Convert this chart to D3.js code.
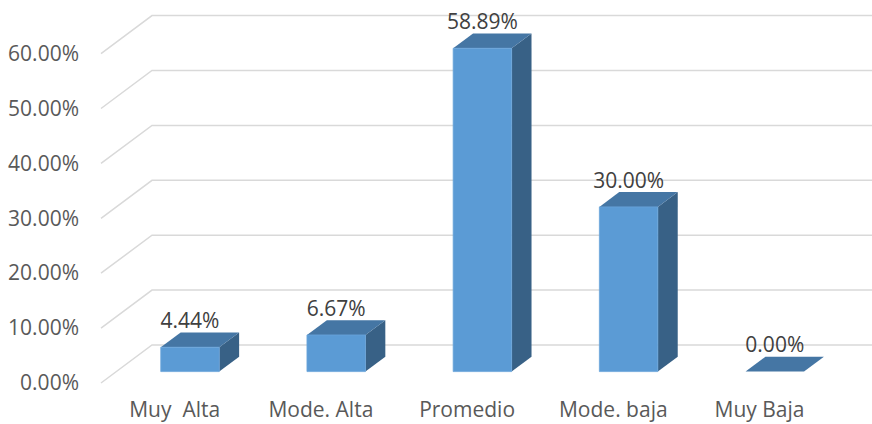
<!DOCTYPE html>
<html>
<head>
<meta charset="utf-8">
<script src="https://cdn.jsdelivr.net/npm/d3@7/dist/d3.min.js"></script>
<style>
  html, body { margin: 0; padding: 0; background: #ffffff; }
  svg { display: block; }
  text { font-family: "Open Sans", "Liberation Sans", sans-serif; }
</style>
</head>
<body>
<div id="chart"></div>
<script>
// Category labels and percentage values
const categories = ["Muy  Alta", "Mode. Alta", "Promedio", "Mode. baja", "Muy Baja"];
const values = [4.44, 6.67, 58.89, 30.00, 0.00];
const tickValues = [0, 10, 20, 30, 40, 50, 60];

const W = 872, H = 424;
const FONT = "21px";

// Oblique projection: full depth of the box shifts points right and up
const DX = 51, DY = 38;
const barDepthFront = 0.30, barDepthBack = 0.69;

const svg = d3.select("#chart").append("svg")
  .attr("width", W).attr("height", H);

// Front-plane scales
const x = d3.scaleBand()
  .domain(categories)
  .range([101.6, 832.6])
  .paddingInner(0.6)
  .paddingOuter(0.3);

const y = d3.scaleLinear()
  .domain([0, 60])
  .range([383, 383 - 60 * 5.49]);

const project = (xf, v, d) => [xf + d * DX, y(v) - d * DY];

// Gridlines: slanted along the side wall, then flat across the back wall
const grid = svg.append("g");
tickValues.forEach(t => {
  const p0 = project(101, t, 0);
  const p1 = project(101, t, 1);
  const p2 = project(x.range()[1], t, 1);
  grid.append("path")
    .attr("d", d3.line()([p0, p1, p2]))
    .attr("fill", "none")
    .attr("stroke", "#d9d9d9")
    .attr("stroke-width", 1.5);
});

// Value axis labels
const yAxis = d3.axisLeft(y)
  .tickValues(tickValues)
  .tickFormat(d => d3.format(".2%")(d / 100))
  .tickSize(0)
  .tickPadding(22);

const axisG = svg.append("g")
  .attr("transform", "translate(101,0)")
  .call(yAxis);
axisG.select(".domain").remove();
axisG.selectAll("text")
  .attr("fill", "#595959")
  .style("font-size", FONT)
  .style("font-family", "'Open Sans', sans-serif");

// Category labels along the floor
svg.append("g").selectAll("text")
  .data(categories)
  .join("text")
  .attr("x", d => x(d) + x.bandwidth() / 2)
  .attr("y", 417)
  .attr("text-anchor", "middle")
  .attr("fill", "#595959")
  .style("font-size", FONT)
  .style("white-space", "pre")
  .text(d => d);

// 3D bars: side, top and front faces
const bw = x.bandwidth();
const bars = svg.append("g").selectAll("g")
  .data(categories.map((c, i) => ({ c, v: values[i] })))
  .join("g");

const poly = pts => "M" + pts.map(p => p.join(",")).join("L") + "Z";

bars.each(function (d) {
  const g = d3.select(this);
  const xl = x(d.c), xr = x(d.c) + bw;
  const f = barDepthFront, b = barDepthBack;
  if (d.v > 0) {
    g.append("path")
      .attr("d", poly([project(xr, 0, f), project(xr, d.v, f), project(xr, d.v, b), project(xr, 0, b)]))
      .attr("fill", "#386186");
    g.append("path")
      .attr("d", poly([project(xl, d.v, f), project(xr, d.v, f), project(xr, d.v, b), project(xl, d.v, b)]))
      .attr("fill", "#4576a4");
    g.append("path")
      .attr("d", poly([project(xl, 0, f), project(xr, 0, f), project(xr, d.v, f), project(xl, d.v, f)]))
      .attr("fill", "#5b9bd5")
      .attr("stroke", "#6aa5da")
      .attr("stroke-width", 0.8);
  } else {
    g.append("path")
      .attr("d", poly([project(xl, 0, f), project(xr, 0, f), project(xr, 0, b), project(xl, 0, b)]))
      .attr("fill", "#4576a4");
  }
  // Data label above the bar
  const top = project(xl + bw / 2, d.v, b);
  g.append("text")
    .attr("x", xl + bw / 2 + f * DX)
    .attr("y", top[1] - 4.5)
    .attr("text-anchor", "middle")
    .attr("fill", "#404040")
    .style("font-size", FONT)
    .text(d3.format(".2%")(d.v / 100));
});
</script>
</body>
</html>
